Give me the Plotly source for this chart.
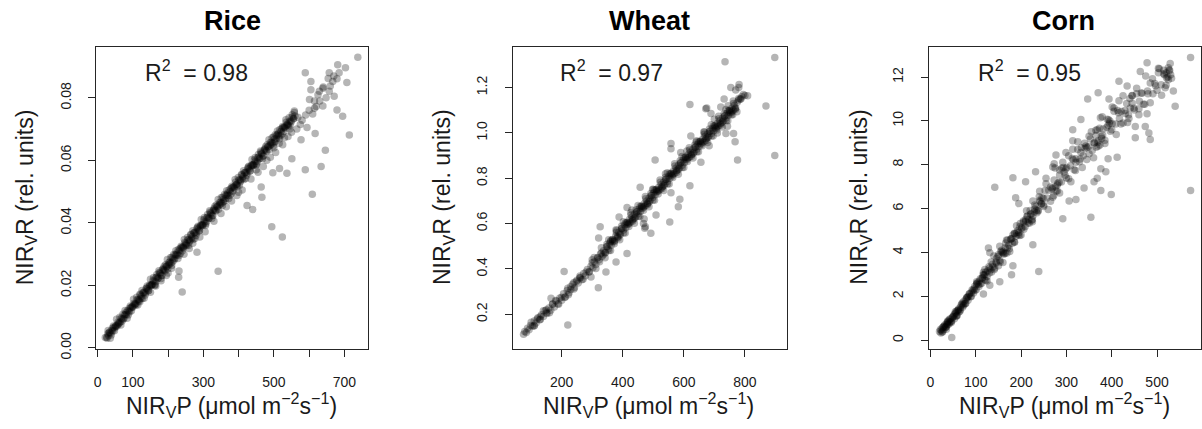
import plotly.graph_objects as go

# ---------------- data ----------------
panel_titles = ["Rice", "Wheat", "Corn"]
r2_labels = ["0.98", "0.97", "0.95"]

# Rice: dense band
rice_core_x = [22, 26, 29, 31, 34, 37, 40, 43, 46, 49,
               52, 55, 58, 61, 64, 67, 70, 73, 76, 79,
               82, 85, 88, 91, 94, 97, 100, 103, 106, 109,
               112, 115, 118, 121, 124, 127, 130, 133, 136, 139,
               142, 145, 148, 151, 154, 157, 160, 163, 166, 169,
               172, 175, 178, 181, 184, 187, 190, 193, 196, 199,
               202, 205, 208, 211, 214, 217, 220, 223, 226, 229,
               232, 235, 238, 241, 244, 247, 250, 253, 256, 259,
               262, 265, 268, 271, 274, 277, 280, 283, 286, 289,
               292, 295, 298, 301, 304, 307, 310, 313, 316, 319,
               322, 325, 328, 331, 334, 337, 340, 343, 346, 349,
               352, 355, 358, 361, 364, 367, 370, 373, 376, 379,
               382, 385, 388, 391, 394, 397, 400, 403, 406, 409,
               412, 415, 418, 421, 424, 427, 430, 433, 436, 439,
               442, 445, 448, 451, 454, 457, 460, 463, 466, 469,
               472, 475, 478, 481, 484, 487, 490, 493, 496, 499,
               502, 505, 508, 511, 514, 517, 520, 523, 526, 529,
               532, 535, 538, 541, 544, 548, 552, 556, 560]
rice_core_y = [.0033, .0034, .0045, .0040, .0050, .0047, .0056, .0054, .0065, .0064,
               .0071, .0069, .0082, .0080, .0083, .0095, .0093, .0092, .0105, .0107,
               .0106, .0120, .0117, .0115, .0128, .0131, .0130, .0143, .0141, .0137,
               .0153, .0155, .0153, .0169, .0165, .0158, .0176, .0179, .0176, .0191,
               .0188, .0184, .0202, .0200, .0202, .0216, .0213, .0203, .0225, .0227,
               .0224, .0241, .0237, .0232, .0250, .0249, .0249, .0266, .0261, .0253,
               .0273, .0275, .0272, .0290, .0285, .0281, .0298, .0297, .0297, .0315,
               .0311, .0302, .0322, .0321, .0320, .0337, .0335, .0328, .0345, .0347,
               .0344, .0361, .0356, .0347, .0369, .0370, .0367, .0385, .0380, .0376,
               .0392, .0394, .0392, .0409, .0404, .0397, .0417, .0418, .0415, .0434,
               .0428, .0423, .0440, .0442, .0440, .0457, .0452, .0444, .0465, .0466,
               .0463, .0482, .0476, .0471, .0488, .0490, .0488, .0505, .0500, .0493,
               .0513, .0514, .0510, .0530, .0524, .0518, .0536, .0538, .0536, .0553,
               .0548, .0539, .0561, .0562, .0559, .0578, .0572, .0566, .0584, .0586,
               .0584, .0601, .0596, .0588, .0609, .0610, .0606, .0626, .0620, .0613,
               .0632, .0634, .0631, .0650, .0644, .0635, .0657, .0658, .0655, .0675,
               .0668, .0661, .0680, .0682, .0678, .0699, .0692, .0684, .0705, .0706,
               .0703, .0722, .0716, .0711, .0724, .0726, .0738, .0733, .0742]
# Rice: second pass over the band (its width)
rice_band2_x = [30, 36, 42, 48, 54, 60, 66, 72, 78, 84,
                90, 96, 102, 108, 114, 120, 126, 132, 138, 144,
                150, 156, 162, 168, 174, 180, 186, 192, 198, 204,
                210, 216, 222, 228, 234, 240, 246, 252, 258, 264,
                270, 276, 282, 288, 294, 300, 306, 312, 318, 324,
                330, 336, 342, 348, 354, 360, 366, 372, 378, 384,
                390, 396, 402, 408, 414, 420, 426, 432, 438, 444,
                450, 456, 462, 468, 474, 480, 486, 492, 498, 504,
                510, 516, 522, 528, 534, 540, 546, 552, 558]
rice_band2_y = [.0056, .0031, .0063, .0055, .0092, .0077, .0073, .0108, .0120, .0095,
                .0127, .0119, .0156, .0141, .0137, .0172, .0184, .0159, .0191, .0183,
                .0220, .0204, .0200, .0235, .0247, .0222, .0254, .0246, .0283, .0268,
                .0264, .0299, .0311, .0286, .0318, .0310, .0347, .0332, .0328, .0363,
                .0375, .0350, .0382, .0374, .0411, .0396, .0392, .0427, .0439, .0414,
                .0446, .0438, .0475, .0460, .0456, .0491, .0503, .0478, .0510, .0502,
                .0539, .0524, .0520, .0555, .0567, .0542, .0574, .0566, .0603, .0588,
                .0584, .0619, .0630, .0605, .0637, .0629, .0666, .0651, .0647, .0682,
                .0694, .0669, .0701, .0693, .0730, .0715, .0711, .0746, .0758]
# Rice: third pass over the band (its dark centre)
rice_band3_x = [27, 33, 39, 45, 51, 57, 63, 69, 75, 81,
                87, 93, 99, 105, 111, 117, 123, 129, 135, 141,
                147, 153, 159, 165, 171, 177, 183, 189, 195, 201,
                207, 213, 219, 225, 231, 237, 243, 249, 255, 261,
                267, 273, 279, 285, 291, 297, 303, 309, 315, 321,
                327, 333, 339, 345, 351, 357, 363, 369, 375, 381,
                387, 393, 399, 405, 411, 417, 423, 429, 435, 441,
                447, 453, 459, 465, 471, 477, 483, 489, 495, 501,
                507, 513, 519, 525, 531, 537, 543, 549, 555]
rice_band3_y = [.0031, .0049, .0041, .0070, .0069, .0074, .0098, .0085, .0095, .0113,
                .0105, .0134, .0133, .0138, .0162, .0149, .0159, .0177, .0169, .0198,
                .0197, .0201, .0225, .0212, .0222, .0240, .0232, .0261, .0260, .0265,
                .0289, .0276, .0286, .0304, .0296, .0325, .0324, .0329, .0353, .0340,
                .0350, .0368, .0360, .0389, .0388, .0393, .0417, .0404, .0414, .0432,
                .0424, .0453, .0452, .0457, .0481, .0468, .0478, .0496, .0488, .0517,
                .0516, .0521, .0545, .0532, .0542, .0560, .0552, .0581, .0580, .0585,
                .0609, .0595, .0605, .0623, .0615, .0644, .0643, .0648, .0672, .0659,
                .0669, .0687, .0679, .0708, .0707, .0712, .0736, .0723, .0733]
# Rice: scattered points
rice_sx = [738, 589, 681, 703, 657, 605, 707, 679, 695, 714,
           679, 646, 634, 609, 589, 551, 537, 494, 524, 342,
           240, 466, 516, 497, 464, 440, 424, 230, 231, 282,
           615, 639, 577, 594, 617, 671, 648, 615, 657, 639,
           667, 654, 629, 601, 605, 558, 568, 540, 180, 195,
           210, 245, 260, 290, 305, 330, 350, 365, 395, 410,
           435, 455, 470, 490, 505, 525, 550, 565, 575, 580,
           590, 600, 610, 620, 630, 625, 640, 660, 670, 685,
           150, 165, 120, 200, 270, 380, 400, 450, 480, 500,
           515, 530, 545]
rice_sy = [.0930, .0880, .0906, .0896, .0880, .0826, .0849, .0861, .0741, .0681,
           .0761, .0632, .0580, .0492, .0570, .0605, .0559, .0388, .0355, .0245,
           .0179, .0482, .0574, .0560, .0515, .0443, .0456, .0226, .0246, .0306,
           .0767, .0774, .0666, .0705, .0686, .0805, .0800, .0790, .0821, .0831,
           .0852, .0862, .0821, .0795, .0852, .0753, .0738, .0676, .0215, .0232,
           .0255, .0300, .0318, .0355, .0372, .0405, .0430, .0452, .0488, .0505,
           .0540, .0562, .0580, .0610, .0625, .0650, .0690, .0700, .0715, .0728,
           .0745, .0760, .0748, .0772, .0790, .0810, .0835, .0838, .0870, .0880,
           .0178, .0198, .0148, .0240, .0335, .0470, .0498, .0570, .0600, .0640,
           .0655, .0672, .0700]

# Wheat: dense band
wheat_core_x = [75, 79, 84, 88, 93, 98, 104, 110, 116, 122,
                128, 134, 140, 146, 152, 158, 164, 170, 176, 182,
                188, 194, 200, 206, 212, 218, 224, 230, 236, 242,
                248, 254, 260, 266, 272, 278, 284, 290, 296, 302,
                307, 312, 317, 322, 327, 332, 337, 342, 347, 352,
                357, 362, 367, 372, 377, 382, 387, 392, 397, 402,
                406, 410, 414, 418, 422, 426, 430, 434, 438, 442,
                446, 450, 454, 458, 462, 466, 470, 474, 478, 482,
                486, 490, 494, 498, 502, 506, 510, 514, 518, 522,
                526, 530, 534, 538, 542, 546, 550, 554, 558, 562,
                566, 570, 574, 578, 582, 586, 590, 594, 598, 602,
                606, 610, 614, 618, 622, 626, 630, 634, 638, 642,
                646, 650, 654, 658, 662, 666, 670, 674, 678, 682,
                686, 690, 694, 698, 702, 706, 710, 714, 718, 722,
                726, 730, 734, 738, 742, 746, 750, 754, 758, 762,
                766, 770, 775, 780, 785, 790]
wheat_core_y = [.112, .124, .120, .138, .132, .150, .147, .170, .162, .185,
                .176, .198, .190, .215, .203, .228, .218, .245, .232, .258,
                .246, .272, .262, .290, .276, .305, .295, .322, .332, .318,
                .345, .338, .362, .352, .380, .370, .398, .388, .412, .405,
                .432, .420, .448, .440, .466, .455, .480, .472, .498, .488,
                .512, .504, .530, .520, .545, .540, .562, .555, .578, .572,
                .594, .582, .604, .596, .618, .607, .628, .620, .641, .630,
                .652, .644, .664, .655, .676, .668, .688, .680, .700, .690,
                .712, .703, .724, .715, .736, .727, .748, .740, .760, .750,
                .772, .763, .784, .775, .796, .786, .808, .800, .820, .810,
                .832, .822, .844, .835, .856, .846, .868, .858, .880, .870,
                .892, .882, .904, .893, .915, .905, .928, .916, .938, .928,
                .950, .940, .962, .950, .973, .962, .985, .975, .996, .986,
                1.008, .998, 1.020, 1.010, 1.030, 1.020, 1.042, 1.032, 1.054, 1.044,
                1.064, 1.055, 1.076, 1.066, 1.087, 1.078, 1.098, 1.088, 1.110, 1.100,
                1.122, 1.110, 1.135, 1.145, 1.150, 1.160]
# Wheat: second pass over the band
wheat_band2_x = [100, 110, 120, 130, 140, 150, 160, 170, 180, 190,
                 200, 210, 220, 230, 240, 250, 260, 270, 280, 290,
                 300, 306, 312, 318, 324, 330, 336, 342, 348, 354,
                 360, 366, 372, 378, 384, 390, 396, 402, 408, 414,
                 420, 426, 432, 438, 444, 450, 456, 462, 468, 474,
                 480, 486, 492, 498, 504, 510, 516, 522, 528, 534,
                 540, 546, 552, 558, 564, 570, 576, 582, 588, 594,
                 600, 606, 612, 618, 624, 630, 636, 642, 648, 654,
                 660, 666, 672, 678, 684, 690, 696, 702, 708, 714,
                 720, 726, 732, 738, 744, 750, 756, 762, 768, 774,
                 780]
wheat_band2_y = [.165, .148, .179, .177, .215, .207, .207, .244, .261, .244,
                 .275, .275, .315, .309, .311, .350, .369, .354, .387, .387,
                 .427, .450, .402, .450, .432, .494, .463, .449, .509, .529,
                 .481, .529, .511, .573, .543, .529, .588, .608, .559, .606,
                 .587, .648, .617, .602, .661, .680, .631, .678, .659, .720,
                 .689, .674, .733, .752, .703, .750, .731, .792, .761, .746,
                 .805, .824, .775, .822, .803, .864, .833, .818, .877, .896,
                 .847, .894, .874, .935, .904, .889, .947, .966, .917, .963,
                 .944, 1.005, .973, .958, 1.017, 1.036, .986, 1.033, 1.013, 1.074,
                 1.042, 1.026, 1.085, 1.103, 1.054, 1.100, 1.080, 1.141, 1.109, 1.094,
                 1.152]
# Wheat: third pass over the dense upper part of the band
wheat_band3_x = [343, 349, 355, 361, 367, 373, 379, 385, 391, 397,
                 403, 409, 415, 421, 427, 433, 439, 445, 451, 457,
                 463, 469, 475, 481, 487, 493, 499, 505, 511, 517,
                 523, 529, 535, 541, 547, 553, 559, 565, 571, 577,
                 583, 589, 595, 601, 607, 613, 619, 625, 631, 637,
                 643, 649, 655, 661, 667, 673, 679, 685, 691, 697,
                 703, 709, 715, 721, 727, 733, 739, 745, 751, 757,
                 763, 769]
wheat_band3_y = [.471, .499, .481, .526, .521, .525, .562, .536, .550, .578,
                 .560, .604, .598, .602, .638, .611, .624, .651, .632, .676,
                 .670, .674, .710, .683, .696, .723, .704, .748, .742, .746,
                 .782, .755, .768, .795, .776, .820, .814, .818, .854, .827,
                 .840, .867, .848, .891, .885, .889, .925, .897, .910, .937,
                 .917, .961, .955, .958, .994, .967, .980, 1.006, .987, 1.031,
                 1.024, 1.028, 1.063, 1.035, 1.048, 1.074, 1.055, 1.098, 1.091, 1.095,
                 1.130, 1.103]
# Wheat: scattered points
wheat_sx = [898, 735, 869, 898, 776, 768, 763, 738, 620, 672,
            675, 620, 558, 558, 506, 457, 554, 582, 587, 558,
            509, 492, 474, 414, 414, 378, 345, 320, 388, 326,
            321, 208, 220, 296, 222, 165, 732, 754, 781, 809,
            721, 787, 689, 667, 623, 590, 656, 683, 710, 743,
            470, 468, 472, 300, 330, 260, 240, 150, 130, 110,
            700, 745, 760, 770, 795, 800, 780, 610, 640, 540,
            500, 430, 380, 360]
wheat_sy = [1.333, 1.314, 1.119, .900, .881, .961, .997, .997, 1.126, 1.107,
            1.110, .767, .953, .930, .881, .760, .607, .674, .707, .736,
            .638, .557, .586, .671, .468, .431, .386, .317, .629, .586,
            .536, .389, .153, .364, .286, .271, 1.150, 1.200, 1.214, 1.164,
            1.114, 1.150, 1.086, 1.003, .986, .914, .871, .943, 1.000, 1.029,
            .620, .600, .580, .440, .470, .360, .340, .220, .190, .150,
            1.060, 1.120, 1.080, 1.190, 1.170, 1.165, 1.200, .920, .960, .820,
            .750, .660, .570, .520]

# Corn: dense band
corn_core_x = [20, 23, 26, 29, 32, 35, 38, 41, 44, 47,
               50, 53, 56, 59, 62, 65, 68, 71, 74, 77,
               80, 83, 86, 89, 92, 95, 98, 101, 104, 107,
               110, 113, 116, 119, 122, 125, 129, 133, 137, 141,
               145, 149, 153, 157, 161, 165, 169, 173, 177, 181,
               185, 189, 193, 197, 201, 205, 209, 213, 217, 221,
               225, 229, 233, 237, 241, 245, 249, 253, 257, 261,
               265, 269, 273, 277, 281, 285, 289, 293, 297, 301,
               305, 309, 313, 317, 321, 325, 329, 333, 337, 341,
               345, 349, 353, 357, 361, 365, 369, 373, 377, 381,
               385, 389, 393, 397, 401, 405, 409, 413, 417, 421,
               425, 429, 433, 437, 441, 445, 449, 455, 461, 467,
               473, 479, 485, 491, 497, 503, 509, 515, 521, 527,
               532]
corn_core_y = [.40, .33, .55, .48, .70, .62, .83, .74, .97, .88,
               1.08, .98, 1.25, 1.14, 1.42, 1.32, 1.60, 1.50, 1.78, 1.66,
               1.95, 1.82, 2.12, 1.98, 2.30, 2.15, 2.46, 2.30, 2.62, 2.45,
               2.80, 2.60, 2.98, 2.76, 3.10, 2.90, 3.35, 3.21, 3.46, 3.22,
               3.57, 3.82, 3.63, 4.10, 3.96, 4.22, 3.98, 4.34, 4.61, 4.42,
               4.88, 4.74, 5.00, 4.77, 5.13, 5.38, 5.18, 5.64, 5.49, 5.75,
               5.50, 5.85, 6.11, 5.91, 6.37, 6.22, 6.47, 6.83, 6.48, 6.84,
               6.34, 6.94, 7.30, 6.80, 7.16, 7.76, 7.21, 7.87, 7.52, 7.87,
               7.36, 7.95, 8.29, 7.77, 8.11, 8.70, 8.14, 8.78, 8.41, 8.75,
               8.24, 8.83, 9.17, 8.65, 8.99, 9.58, 9.02, 9.66, 9.29, 9.63,
               9.12, 9.71, 10.05, 9.53, 9.87, 10.44, 9.86, 10.48, 10.11, 10.43,
               9.90, 10.47, 10.79, 10.27, 10.59, 11.16, 10.58, 11.24, 10.90, 11.26,
               10.76, 11.37, 11.73, 11.24, 11.60, 12.20, 11.65, 12.31, 11.97, 12.32,
               11.95]
corn_low_x = [24, 28, 33, 36, 40, 45, 48, 52, 57, 60,
              63, 66, 70, 73, 78, 84, 90, 96, 102, 108,
              115, 120, 35, 42, 55, 30, 27, 38]
corn_low_y = [.45, .60, .58, .78, .88, .85, 1.02, 1.15, 1.10, 1.35,
              1.28, 1.50, 1.65, 1.58, 1.85, 2.00, 2.18, 2.35, 2.55, 2.70,
              2.85, 3.00, .50, .95, 1.30, .65, .40, .70]
# Corn: second pass over the (wider) band
corn_band2_x = [120, 125, 130, 135, 140, 145, 150, 155, 160, 165,
                170, 175, 180, 185, 190, 195, 200, 205, 210, 215,
                220, 225, 230, 235, 240, 245, 250, 255, 260, 265,
                270, 275, 280, 285, 290, 295, 300, 305, 310, 315,
                320, 325, 330, 335, 340, 345, 350, 355, 360, 365,
                370, 375, 380, 385, 390, 395, 400, 405, 410, 415,
                420, 425, 430, 435, 440, 445, 450, 455, 460, 465,
                470, 475, 480, 485, 490, 495, 500, 505, 510, 515,
                520, 525, 530]
corn_band2_y = [3.22, 2.70, 3.28, 3.11, 3.84, 3.52, 3.40, 4.04, 4.03, 3.97,
                4.56, 4.05, 4.64, 4.48, 5.22, 4.91, 4.80, 5.43, 5.41, 5.34,
                5.92, 5.40, 5.98, 5.81, 6.54, 6.22, 6.10, 7.13, 5.96, 6.99,
                6.52, 7.85, 7.08, 6.71, 7.84, 7.67, 7.40, 8.41, 7.22, 8.23,
                7.74, 9.05, 8.26, 7.87, 8.98, 8.79, 8.50, 9.51, 8.32, 9.33,
                8.84, 10.15, 9.36, 8.97, 10.08, 9.89, 9.60, 10.59, 9.38, 10.37,
                9.86, 11.15, 10.34, 9.93, 11.02, 10.81, 10.50, 11.49, 10.28, 11.27,
                10.76, 12.05, 11.24, 10.83, 11.92, 11.71, 11.40, 12.38, 11.17, 12.15,
                11.63, 12.42, 12.10]
# Corn: third pass over the dense lower part of the band
corn_band3_x = [22, 26, 30, 34, 38, 42, 46, 50, 54, 58,
                62, 66, 70, 74, 78, 82, 86, 90, 94, 98,
                102, 106, 110, 114, 118, 122, 126, 130, 134, 138,
                142, 146, 150, 154, 158, 162, 166, 170, 174, 178,
                182, 186, 190, 194, 198, 202, 206, 210, 214, 218,
                222, 226, 230, 234, 238, 242, 246, 250]
corn_band3_y = [.49, .36, .61, .59, .88, .81, .81, 1.07, 1.21, 1.10,
                1.38, 1.39, 1.70, 1.65, 1.68, 1.97, 2.11, 2.00, 2.27, 2.28,
                2.59, 2.54, 2.56, 2.83, 2.97, 2.73, 3.16, 3.06, 3.56, 3.35,
                3.29, 3.74, 3.90, 3.57, 4.00, 3.92, 4.43, 4.22, 4.17, 4.62,
                4.80, 4.47, 4.90, 4.81, 5.32, 5.11, 5.06, 5.50, 5.66, 5.33,
                5.75, 5.66, 6.16, 5.94, 5.89, 6.33, 6.50, 6.16]
# Corn: darker clusters
corn_cluster_x = [268, 272, 276, 280, 284, 362, 366, 370, 374, 378,
                  392, 396, 520, 524, 516, 528]
corn_cluster_y = [6.90, 6.60, 7.00, 6.80, 7.20, 9.00, 8.80, 9.10, 8.90, 9.20,
                  9.80, 10.00, 12.20, 12.00, 12.10, 12.30]
# Corn: scattered points
corn_sx = [574, 574, 540, 478, 463, 416, 370, 347, 394, 332,
           314, 314, 277, 273, 232, 210, 182, 142, 188, 195,
           226, 239, 179, 153, 131, 117, 47, 354, 376, 399,
           361, 339, 321, 292, 306, 412, 392, 387, 368, 376,
           452, 485, 482, 474, 452, 438, 460, 478, 518, 536,
           525, 529, 503, 434, 445, 416, 401, 379, 368, 350,
           343, 332, 321, 299, 285, 299, 292, 314, 270, 255,
           241, 226, 212, 223, 197, 186, 168, 153, 131, 128,
           160, 182, 117, 102, 80, 58, 37]
corn_sy = [12.89, 6.83, 10.67, 12.65, 12.25, 11.81, 11.29, 11.00, 11.00, 10.07,
           9.60, 9.10, 8.44, 8.05, 7.68, 7.23, 7.41, 6.97, 6.50, 6.23,
           4.35, 3.13, 2.98, 2.66, 2.51, 2.11, .12, 5.61, 6.83, 6.64,
           7.23, 6.94, 6.42, 5.54, 6.35, 8.34, 8.27, 7.68, 7.38, 7.82,
           9.23, 9.15, 9.45, 9.74, 9.74, 10.11, 10.55, 10.33, 11.51, 11.37,
           11.88, 12.62, 12.40, 11.59, 11.15, 10.92, 10.63, 10.19, 9.60, 9.30,
           8.86, 8.56, 8.27, 7.82, 7.53, 8.56, 8.12, 8.71, 7.90, 7.38,
           6.79, 6.35, 5.90, 5.46, 5.17, 4.87, 4.57, 4.28, 3.99, 4.20,
           3.54, 3.40, 3.10, 2.66, 1.92, 1.33, .74]

# axis ticks
rice_xtick_vals = [0, 100, 200, 300, 400, 500, 600, 700]
rice_xtick_text = ["0", "100", " ", "300", " ", "500", " ", "700"]
rice_ytick_vals = [0.00, 0.02, 0.04, 0.06, 0.08]
rice_ytick_text = ["0.00", "0.02", "0.04", "0.06", "0.08"]
wheat_xtick_vals = [200, 400, 600, 800]
wheat_ytick_vals = [0.2, 0.4, 0.6, 0.8, 1.0, 1.2]
wheat_ytick_text = ["0.2", "0.4", "0.6", "0.8", "1.0", "1.2"]
corn_xtick_vals = [0, 100, 200, 300, 400, 500]
corn_ytick_vals = [0, 2, 4, 6, 8, 10, 12]

# ---------------- figure ----------------
W, H = 1202, 429
FONT = "Liberation Sans, Arial, sans-serif"
MARK = dict(size=7.5, color="rgba(0,0,0,0.29)", line=dict(width=0))


def fx(p):
    return p / W


def fy(p):
    return 1 - p / H


fig = go.Figure()
panels = [
    (rice_core_x + rice_band2_x + rice_band3_x + rice_sx,
     rice_core_y + rice_band2_y + rice_band3_y + rice_sy),
    (wheat_core_x + wheat_band2_x + wheat_band3_x + wheat_sx,
     wheat_core_y + wheat_band2_y + wheat_band3_y + wheat_sy),
    (corn_core_x + corn_low_x + corn_band2_x + corn_band3_x + corn_cluster_x + corn_sx,
     corn_core_y + corn_low_y + corn_band2_y + corn_band3_y + corn_cluster_y + corn_sy),
]
for i, (xs, ys) in enumerate(panels):
    sfx = "" if i == 0 else str(i + 1)
    fig.add_trace(go.Scatter(x=xs, y=ys, mode="markers", marker=MARK,
                             xaxis="x" + sfx, yaxis="y" + sfx,
                             showlegend=False, hoverinfo="skip"))

axis_common = dict(showline=True, mirror=True, linecolor="#262626", linewidth=1,
                   ticks="outside", tickcolor="#262626", ticklen=7, tickwidth=1,
                   showgrid=False, zeroline=False, fixedrange=True,
                   tickfont=dict(family=FONT, size=14, color="#1a1a1a"))
ydom = [fy(357.5), fy(47.7)]
boxes = [(94.3, 367.0), (511.7, 786.0), (928.3, 1201.0)]
XSO, YSO = 13, 12

fig.update_layout(
    width=W, height=H, margin=dict(l=0, r=0, t=0, b=0),
    paper_bgcolor="white", plot_bgcolor="white",
    xaxis=dict(axis_common, domain=[fx(boxes[0][0]), fx(boxes[0][1])], range=[-4, 768],
               tickmode="array", tickvals=rice_xtick_vals, ticktext=rice_xtick_text,
               anchor="y", ticklabelstandoff=XSO),
    yaxis=dict(axis_common, domain=ydom, range=[-0.0004, 0.0964],
               tickmode="array", tickvals=rice_ytick_vals, ticktext=rice_ytick_text,
               tickangle=-90, anchor="x", ticklabelstandoff=YSO),
    xaxis2=dict(axis_common, domain=[fx(boxes[1][0]), fx(boxes[1][1])], range=[40, 937],
                tickmode="array", tickvals=wheat_xtick_vals,
                ticktext=[str(v) for v in wheat_xtick_vals],
                anchor="y2", ticklabelstandoff=XSO),
    yaxis2=dict(axis_common, domain=ydom, range=[0.046, 1.381],
                tickmode="array", tickvals=wheat_ytick_vals, ticktext=wheat_ytick_text,
                tickangle=-90, anchor="x2", ticklabelstandoff=YSO),
    xaxis3=dict(axis_common, domain=[fx(boxes[2][0]), fx(boxes[2][1])], range=[-3.7, 597],
                tickmode="array", tickvals=corn_xtick_vals,
                ticktext=[str(v) for v in corn_xtick_vals],
                anchor="y3", ticklabelstandoff=XSO),
    yaxis3=dict(axis_common, domain=ydom, range=[-0.41, 13.39],
                tickmode="array", tickvals=corn_ytick_vals,
                ticktext=[str(v) for v in corn_ytick_vals],
                tickangle=-90, anchor="x3", ticklabelstandoff=YSO),
)

title_cx = [230.6, 648.9, 1063.5]
r2_cx = [195.0, 610.5, 1029.5]
xlab_cx = [230.0, 647.5, 1064.0]
ylab_cx = [24.0, 442.5, 860.0]
xlab = "NIR<sub>V</sub>P (\u03bcmol m<sup>\u22122</sup>s<sup>\u22121</sup>)"
ylab = "NIR<sub>V</sub>R (rel. units)"
ann = []
for i in range(3):
    ann.append(dict(text="<b>" + panel_titles[i] + "</b>", x=fx(title_cx[i]), y=fy(21),
                    xref="paper", yref="paper", xanchor="center", yanchor="middle",
                    showarrow=False, font=dict(family=FONT, size=27, color="black")))
    ann.append(dict(text="R<sup>2</sup>  = " + r2_labels[i], x=fx(r2_cx[i]), y=fy(73),
                    xref="paper", yref="paper", xanchor="center", yanchor="middle",
                    showarrow=False, font=dict(family=FONT, size=23, color="#1a1a1a")))
    ann.append(dict(text=xlab, x=fx(xlab_cx[i]), y=fy(415),
                    xref="paper", yref="paper", xanchor="center", yanchor="middle",
                    showarrow=False, font=dict(family=FONT, size=23, color="#1a1a1a")))
    ann.append(dict(text=ylab, x=fx(ylab_cx[i]), y=fy(202),
                    xref="paper", yref="paper", xanchor="center", yanchor="middle",
                    textangle=-90, showarrow=False,
                    font=dict(family=FONT, size=23, color="#1a1a1a")))
fig.update_layout(annotations=ann)

fig.write_html("out.html")
